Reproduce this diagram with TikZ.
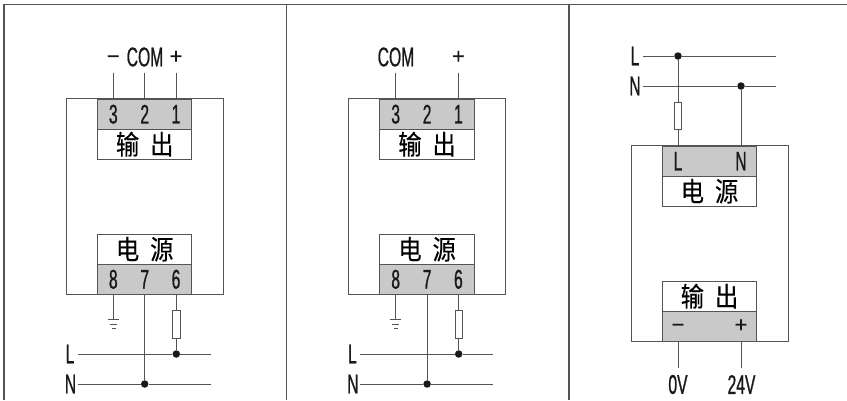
\documentclass[tikz,border=0pt]{standalone}
\usepackage{fontspec}
\setmainfont[FakeStretch=0.58, FakeBold=0.8]{Liberation Sans}
\newfontfamily\signfont[FakeBold=0.4]{Liberation Sans}
\newfontfamily\cjkfont[FakeStretch=0.86, FakeBold=0.3]{Noto Sans CJK SC}
\definecolor{linegray}{gray}{0.33}
\definecolor{termgray}{gray}{0.79}
\tikzset{
	wire/.style={draw=linegray, line width=1pt},
	frameline/.style={draw=linegray, line width=1.4pt},
	casebox/.style={shape=rectangle, draw=linegray, line width=1pt, fill=white, minimum width=157pt, minimum height=195.3pt, inner sep=0pt},
	termbox/.style={shape=rectangle, draw=linegray, line width=1pt, fill=termgray, minimum width=94.5pt, minimum height=30pt, inner sep=0pt},
	namebox/.style={shape=rectangle, draw=linegray, line width=1pt, fill=white, minimum width=94.5pt, minimum height=30pt, inner sep=0pt, font=\cjkfont\fontsize{27}{27}\selectfont},
	fusebox/.style={shape=rectangle, draw=linegray, line width=0.8pt, fill=white, minimum width=7.6pt, minimum height=27.5pt, inner sep=0pt},
	junction/.style={shape=circle, fill=black!90, minimum size=7.5pt, inner sep=0pt},
	termtext/.style={inner sep=0pt, text=black!90, font=\fontsize{27}{27}\selectfont},
	signtext/.style={inner sep=0pt, anchor=base, text=black!90, font=\signfont\fontsize{22}{22}\selectfont}
}
\begin{document}
\begin{tikzpicture}[x=1pt, y=-1pt]
	\useasboundingbox (0,0) rectangle (847,400);

	\coordinate (fa) at (4,400);
	\coordinate (fb) at (4,4.5);
	\coordinate (fc) at (847,4.5);
	\coordinate (fd) at (286.5,4.5);
	\coordinate (fe) at (286.5,400);
	\coordinate (ff) at (569,4.5);
	\coordinate (fg) at (569,400);
	\path [frameline] (fa) -- (fb) -- (fc);
	\path [frameline] (fd) -- (fe);
	\path [frameline] (ff) -- (fg);

	\node[casebox]                     (case1)  at (144.8,196.6) {};
	\node[termbox]                     (out1)   at (144.7,114.2) {};
	\node[namebox]                     (oname1) at (144.7,144.2) {输\hspace{11pt}出};
	\node[namebox]                     (pname1) at (144.7,249.2) {电\hspace{11pt}源};
	\node[termbox]                     (pow1)   at (144.7,279.3) {};

	\node[termtext]                    (n3a)    at (113.3,114.2) {3};
	\node[termtext]                    (n2a)    at (144.7,114.2) {2};
	\node[termtext]                    (n1a)    at (176,114.2)   {1};
	\node[termtext]                    (n8a)    at (113.3,279.3) {8};
	\node[termtext]                    (n7a)    at (144.7,279.3) {7};
	\node[termtext]                    (n6a)    at (176,279.3)   {6};

	\node[signtext]                    (minus1) at (113.3,63.5)  {−};
	\node[termtext]                    (com1)   at (145,57)      {COM};
	\node[signtext]                    (plus1)  at (176,63.5)    {+};
	\node[termtext]                    (la)     at (70,354)      {L};
	\node[termtext]                    (na)     at (70.5,384)    {N};

	\node[fusebox]                     (fuse1)  at (176.3,324.5) {};
	\node[junction]                    (dot1)   at (176.3,354)   {};
	\node[junction]                    (dot2)   at (144.7,384)   {};

	\coordinate (w3a) at (113.3,72.7);
	\coordinate (w2a) at (144.7,72.7);
	\coordinate (w1a) at (176,72.7);
	\coordinate (t3a) at (113.3,99);
	\coordinate (t2a) at (144.7,99);
	\coordinate (t1a) at (176,99);
	\coordinate (t8a) at (113.3,294.3);
	\coordinate (t7a) at (144.7,294.3);
	\coordinate (t6a) at (176.3,294.3);
	\coordinate (ga)  at (113.3,319.5);
	\coordinate (l1a) at (78,354);
	\coordinate (l2a) at (211,354);
	\coordinate (n1b) at (78,384);
	\coordinate (n2b) at (211,384);

	\path [wire] (w3a)   edge (t3a);
	\path [wire] (w2a)   edge (t2a);
	\path [wire] (w1a)   edge (t1a);
	\path [wire] (t8a)   edge (ga);
	\path [wire] (t7a)   edge (dot2);
	\path [wire] (t6a)   edge (fuse1);
	\path [wire] (fuse1) edge (dot1);
	\path [wire] (l1a)   edge (dot1);
	\path [wire] (dot1)  edge (l2a);
	\path [wire] (n1b)   edge (dot2);
	\path [wire] (dot2)  edge (n2b);
	\draw [wire] (107.8,319.5) -- (119,319.5);
	\draw [wire] (110,324)     -- (117,324);
	\draw [wire] (111.8,328)   -- (115.8,328);

	\node[casebox]                     (case2)  at (427,196.6)   {};
	\node[termbox]                     (out2)   at (427.1,114.2) {};
	\node[namebox]                     (oname2) at (427.1,144.2) {输\hspace{11pt}出};
	\node[namebox]                     (pname2) at (427.1,249.2) {电\hspace{11pt}源};
	\node[termbox]                     (pow2)   at (427.1,279.3) {};

	\node[termtext]                    (n3c)    at (395.7,114.2) {3};
	\node[termtext]                    (n2c)    at (427.1,114.2) {2};
	\node[termtext]                    (n1c)    at (458.4,114.2) {1};
	\node[termtext]                    (n8c)    at (395.7,279.3) {8};
	\node[termtext]                    (n7c)    at (427.1,279.3) {7};
	\node[termtext]                    (n6c)    at (458.4,279.3) {6};

	\node[termtext]                    (com2)   at (396,57)      {COM};
	\node[signtext]                    (plus2)  at (458.4,63.5)  {+};
	\node[termtext]                    (lc)     at (352.4,354)   {L};
	\node[termtext]                    (nc)     at (352.9,384)   {N};

	\node[fusebox]                     (fuse2)  at (458.7,324.5) {};
	\node[junction]                    (dot3)   at (458.7,354)   {};
	\node[junction]                    (dot4)   at (427.1,384)   {};

	\coordinate (w2c) at (395.7,72.7);
	\coordinate (w1c) at (458.4,72.7);
	\coordinate (t2c) at (395.7,99);
	\coordinate (t1c) at (458.4,99);
	\coordinate (t8c) at (395.7,294.3);
	\coordinate (t7c) at (427.1,294.3);
	\coordinate (t6c) at (458.7,294.3);
	\coordinate (gc)  at (395.7,319.5);
	\coordinate (l1c) at (360.4,354);
	\coordinate (l2c) at (493.4,354);
	\coordinate (n1d) at (360.4,384);
	\coordinate (n2d) at (493.4,384);

	\path [wire] (w2c)   edge (t2c);
	\path [wire] (w1c)   edge (t1c);
	\path [wire] (t8c)   edge (gc);
	\path [wire] (t7c)   edge (dot4);
	\path [wire] (t6c)   edge (fuse2);
	\path [wire] (fuse2) edge (dot3);
	\path [wire] (l1c)   edge (dot3);
	\path [wire] (dot3)  edge (l2c);
	\path [wire] (n1d)   edge (dot4);
	\path [wire] (dot4)  edge (n2d);
	\draw [wire] (390.2,319.5) -- (401.4,319.5);
	\draw [wire] (392.4,324)   -- (399.4,324);
	\draw [wire] (394.2,328)   -- (398.2,328);

	\node[casebox]                     (case3)  at (709.7,243.6) {};
	\node[termbox]                     (pow3)   at (709.5,161.2) {};
	\node[namebox]                     (pname3) at (709.5,191.2) {电\hspace{11pt}源};
	\node[namebox]                     (oname3) at (709.5,296.2) {输\hspace{11pt}出};
	\node[termbox]                     (out3)   at (709.5,326.2) {};

	\node[termtext]                    (nl)     at (678,161.2)   {L};
	\node[termtext]                    (nn)     at (741,161.2)   {N};
	\node[signtext]                    (minus3) at (678,332)     {−};
	\node[signtext]                    (plus3)  at (741,332)     {+};

	\node[termtext]                    (le)     at (635,56)      {L};
	\node[termtext]                    (ne)     at (635,86)      {N};
	\node[termtext]                    (zero)   at (678,384.5)   {0V};
	\node[termtext]                    (volt)   at (741.5,384.5) {24V};

	\node[fusebox]                     (fuse3)  at (678,116)     {};
	\node[junction]                    (dot5)   at (678,56)      {};
	\node[junction]                    (dot6)   at (741,86)      {};

	\coordinate (l1e) at (643,56);
	\coordinate (l2e) at (776,56);
	\coordinate (n1e) at (643,86);
	\coordinate (n2e) at (776,86);
	\coordinate (tl)  at (678,146);
	\coordinate (tn)  at (741,146);
	\coordinate (tm)  at (678,341);
	\coordinate (tp)  at (741,341);
	\coordinate (wm)  at (678,367.7);
	\coordinate (wp)  at (741,367.7);

	\path [wire] (l1e)   edge (dot5);
	\path [wire] (dot5)  edge (l2e);
	\path [wire] (n1e)   edge (dot6);
	\path [wire] (dot6)  edge (n2e);
	\path [wire] (dot5)  edge (fuse3);
	\path [wire] (fuse3) edge (tl);
	\path [wire] (dot6)  edge (tn);
	\path [wire] (tm)    edge (wm);
	\path [wire] (tp)    edge (wp);
\end{tikzpicture}
\end{document}
